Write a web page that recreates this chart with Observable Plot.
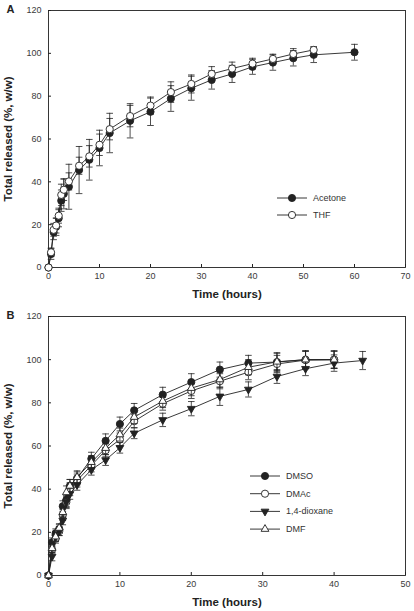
<!DOCTYPE html>
<html><head><meta charset="utf-8">
<script src="https://cdn.jsdelivr.net/npm/d3@7"></script>
<script src="https://cdn.jsdelivr.net/npm/@observablehq/plot@0.6"></script>
<style>
html,body{margin:0;padding:0;background:#fff;}
#wrap{position:relative;width:414px;height:611px;font-family:"Liberation Sans",Arial,sans-serif;}
.panel{position:relative;width:414px;}
.panel svg{display:block;}
.legend{position:absolute;left:0;top:0;overflow:visible;}
</style></head><body><div id="wrap"></div>
<script>
// ---------- Panel A data ----------
const panelALabel = "A";
const timeAcetone = [0,0.5,1,1.5,2,2.5,3,4,6,8,10,12,16,20,24,28,32,36,40,44,48,52,60];
const acetone     = [0,6.3,16.5,19,23,31.2,34.4,37.7,45.5,50.3,55.8,62.8,68.5,72.7,78.9,83.7,87.6,90.4,93.7,95.7,97.7,99.3,100.5];
const acetoneErr  = [0,2.5,3.5,4,4,5,7,10.5,11,9.5,8.3,9.2,8,6.4,6,5.6,4.3,4,3.5,3.6,3.6,3.6,3.7];
const timeTHF     = [0,0.5,1,1.5,2,2.5,3,4,6,8,10,12,16,20,24,28,32,36,40,44,48,52];
const thf         = [0,7.1,17.6,19.6,24.2,33.9,36.3,40.2,47.5,51.9,57.3,64.6,70.7,75.6,81.9,85.7,90.4,92.9,95.2,97.4,99.7,101.6];
const thfErr      = [0,2,3,3.5,3.5,5,5,4,4,5,5,5,5,4,4.8,4.2,3.4,3,2.5,2.2,2.5,1.5];
const xTicksA = [0,10,20,30,40,50,60,70];

// ---------- Panel B data ----------
const panelBLabel = "B";
const timeB      = [0,0.5,1,1.5,2,2.5,3,4,6,8,10,12,16,20,24,28,32,36,40];
const timeDiox   = [0,0.5,1,1.5,2,2.5,3,4,6,8,10,12,16,20,24,28,32,36,40,44];
const dmso       = [0,15.4,19.6,21.5,32.1,35,41.5,45,54.1,62.4,70.2,76.5,83.8,89.6,95.4,98.4,98.9,100,100];
const dmsoErr    = [0,2,2,2,2.5,3,3,3,3,3.2,3.2,3.2,3.4,3.9,3.5,3.6,4.3,4.2,4];
const dmac       = [0,12,17,20.5,28,34,40,44,51,58,63,71.5,79.6,85.5,90,94.2,98,99.8,100];
const dmacErr    = [0,2,2,2,2.5,3,3,3,3,3,3,3,3,3.5,3.5,3.5,4,4,4];
const dioxane    = [0,8.8,17.8,20.5,25.5,34,37.8,42,49,53.5,59.2,65.9,72.1,77.3,83,86.2,92.2,95.8,98.4,99.6];
const dioxaneErr = [0,2,2,2,2,2.5,2.5,2.5,2.5,2.5,2.5,2.5,3.1,3.3,4.2,3.5,3.2,3.2,3.8,4.2];
const dmf        = [0,12.6,18,22,29.3,38.5,41.5,45.5,52.5,59,65.3,73.4,80.8,86.8,90.8,96.5,99,100,100];
const dmfErr     = [0,2,2,2,2.5,3,3,3,3,3,3,3,3,3.5,3.5,3.5,4,4,4];
const xTicksB = [0,10,20,30,40,50];

const yTicks = [0,20,40,60,80,100,120];
const xTitle = "Time (hours)";
const yTitle = "Total released (%, w/w)";

// ---------- styles ----------
const INK = "#222";
const FONT = "'Liberation Sans', Arial, Helvetica, sans-serif";
const capSymbol = {draw(ctx, size){ const w = Math.sqrt(size/Math.PI); ctx.moveTo(-w,0); ctx.lineTo(w,0); }};
const styleFilledCircle = {symbol:"circle", fill:INK, stroke:INK, rotate:0, r:3.6};
const styleOpenCircle   = {symbol:"circle", fill:"white", stroke:INK, rotate:0, r:3.6};
const styleDownTri      = {symbol:"triangle", fill:INK, stroke:INK, rotate:180, r:2.9};
const styleUpTri        = {symbol:"triangle", fill:"white", stroke:INK, rotate:0, r:2.9};

const seriesA = [
  {name:"Acetone", time:timeAcetone, values:acetone, err:acetoneErr, style:styleFilledCircle},
  {name:"THF", time:timeTHF, values:thf, err:thfErr, style:styleOpenCircle}
];
const seriesB = [
  {name:"DMSO", time:timeB, values:dmso, err:dmsoErr, style:styleFilledCircle},
  {name:"DMAc", time:timeB, values:dmac, err:dmacErr, style:styleOpenCircle},
  {name:"1,4-dioxane", time:timeDiox, values:dioxane, err:dioxaneErr, style:styleDownTri},
  {name:"DMF", time:timeB, values:dmf, err:dmfErr, style:styleUpTri}
];

function makePanel({series, xDomain, xTicks, height, marginBottom, label, legendPos}) {
  const marks = [];
  for (const s of series) {
    const rows = s.values.map((v,i)=>({t:s.time[i], v, e:s.err[i]}));
    const st = s.style;
    marks.push(Plot.line(rows, {x:"t", y:"v", stroke:INK, strokeWidth:0.9}));
    const er = rows.filter(d=>d.e>0);
    marks.push(Plot.ruleX(er, {x:"t", y1:d=>d.v-d.e, y2:d=>d.v+d.e, stroke:INK, strokeWidth:0.8}));
    marks.push(Plot.dot(er, {x:"t", y:d=>d.v+d.e, symbol:capSymbol, r:3.3, stroke:INK, strokeWidth:0.8, fill:"none"}));
    marks.push(Plot.dot(er, {x:"t", y:d=>d.v-d.e, symbol:capSymbol, r:3.3, stroke:INK, strokeWidth:0.8, fill:"none"}));
    marks.push(Plot.dot(rows, {x:"t", y:"v", symbol:st.symbol, r:st.r, fill:st.fill, stroke:st.stroke, strokeWidth:0.9, rotate:st.rotate}));
  }
  const svg = Plot.plot({
    width:414, height, marginLeft:48, marginRight:9, marginTop:10, marginBottom,
    style:{fontFamily:FONT, fontSize:"9px", color:"#3a3a3a", background:"white"},
    x:{domain:xDomain, label:null},
    y:{domain:[0,120], label:null},
    marks:[
      Plot.axisX({ticks:xTicks, tickSize:0, tickPadding:5, label:null, fontSize:9}),
      Plot.axisX({ticks:xTicks, tickSize:3, dy:-3, fill:"none", label:null, stroke:INK}),
      Plot.axisY({ticks:yTicks, tickSize:0, tickPadding:7, label:null, fontSize:9}),
      Plot.axisY({ticks:yTicks, tickSize:3, dx:3, fill:"none", label:null, stroke:INK}),
      Plot.frame({stroke:INK, strokeWidth:0.9}),
      ...marks,
      Plot.text([xTitle], {frameAnchor:"bottom", dy:27, text:d=>d, fontWeight:"bold", fontSize:11.5, fill:INK, lineAnchor:"middle"}),
      Plot.text([yTitle], {frameAnchor:"left", dx:-40, rotate:-90, text:d=>d, fontWeight:"bold", fontSize:11.5, fill:INK, textAnchor:"middle", lineAnchor:"middle"}),
      Plot.text([label], {frameAnchor:"top-left", dx:-38, dy:-1, text:d=>d, fontWeight:"bold", fontSize:11, fill:INK, textAnchor:"middle", lineAnchor:"middle"})
    ]
  });
  const div = document.createElement("div");
  div.className = "panel";
  div.appendChild(svg);
  // legend overlay
  const lg = d3.create("svg").attr("class","legend").attr("width",414).attr("height",height)
    .style("font-family", FONT).style("font-size","9px");
  series.forEach((s,i)=>{
    const y = legendPos.y + i*legendPos.gap;
    const g = lg.append("g").attr("transform",`translate(${legendPos.x},${y})`);
    g.append("line").attr("x1",0).attr("x2",30).attr("y1",0).attr("y2",0).attr("stroke",INK).attr("stroke-width",0.9);
    g.append("path").attr("transform",`translate(15,0) rotate(${s.style.rotate})`)
      .attr("d", d3.symbol(s.style.symbol==="triangle"?d3.symbolTriangle:d3.symbolCircle, s.style.r*s.style.r*Math.PI)())
      .attr("fill", s.style.fill).attr("stroke", s.style.stroke).attr("stroke-width",0.9);
    g.append("text").attr("x",36).attr("y",0).attr("dy","0.32em").attr("fill","#333").text(s.name);
  });
  div.appendChild(lg.node());
  return div;
}

const wrap = document.getElementById("wrap");
wrap.appendChild(makePanel({series:seriesA, xDomain:[0,70], xTicks:xTicksA, height:306, marginBottom:39, label:panelALabel, legendPos:{x:277, y:198, gap:17}}));
wrap.appendChild(makePanel({series:seriesB, xDomain:[0,50], xTicks:xTicksB, height:305, marginBottom:36, label:panelBLabel, legendPos:{x:250, y:170, gap:17.7}}));
</script></body></html>
